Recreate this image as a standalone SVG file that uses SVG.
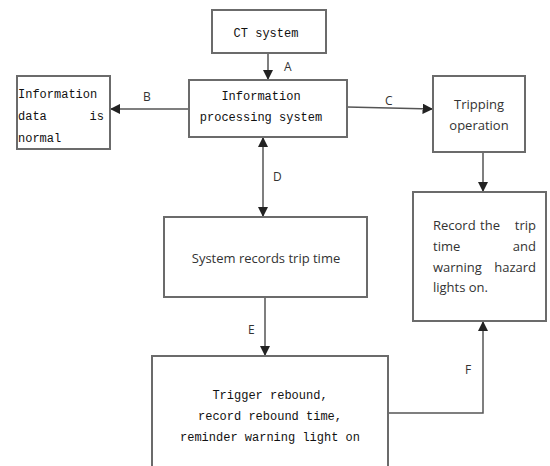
<svg xmlns="http://www.w3.org/2000/svg" width="550" height="466" viewBox="0 0 550 466">
<defs>
<marker id="ah" viewBox="0 0 10 10" refX="9" refY="5" markerWidth="7" markerHeight="7" orient="auto-start-reverse">
<path d="M0,0 L10,5 L0,10 z" fill="#222"/>
</marker>
<style>
.box{fill:#fff;stroke:#6b6b6b;stroke-width:2}
.mono{font-family:"Liberation Mono","DejaVu Sans Mono",monospace;font-size:12px;fill:#111}
.sans{font-family:"Open Sans","Noto Sans",sans-serif;font-size:13px;fill:#333}
.lbl{font-family:"Open Sans","Noto Sans",sans-serif;font-size:12px;fill:#333}
.conn{fill:none;stroke:#555;stroke-width:1.5}
</style>
</defs>
<rect width="550" height="466" fill="#fff"/>
<g id="connectors">
<line class="conn" x1="268" y1="53" x2="268" y2="79" marker-end="url(#ah)"/>
<text class="lbl" x="284" y="71">A</text>
<line class="conn" x1="189" y1="109" x2="111" y2="109" marker-end="url(#ah)"/>
<text class="lbl" x="143" y="101">B</text>
<line class="conn" x1="347" y1="107" x2="432" y2="109" marker-end="url(#ah)"/>
<text class="lbl" x="385" y="105">C</text>
<line class="conn" x1="263" y1="138" x2="263" y2="216" marker-start="url(#ah)" marker-end="url(#ah)"/>
<text class="lbl" x="273" y="181">D</text>
<line class="conn" x1="483" y1="152" x2="483" y2="191" marker-end="url(#ah)"/>
<line class="conn" x1="265" y1="297" x2="265" y2="355" marker-end="url(#ah)"/>
<text class="lbl" x="248" y="334">E</text>
<polyline class="conn" points="388,413 483,413 483,322" marker-end="url(#ah)"/>
<text class="lbl" x="465" y="374">F</text>
</g>
<g id="ct">
<rect class="box" x="212" y="10" width="114" height="43"/>
<text class="mono" x="266" y="37" text-anchor="middle">CT system</text>
</g>
<g id="info">
<rect class="box" x="189" y="80" width="158" height="57"/>
<text class="mono" x="261" y="100" text-anchor="middle">Information</text>
<text class="mono" x="261" y="121" text-anchor="middle">processing system</text>
</g>
<g id="normal">
<rect class="box" x="17" y="76" width="93" height="73"/>
<text class="mono" x="18" y="98">Information</text>
<text class="mono" x="18" y="120">data</text>
<text class="mono" x="104" y="120" text-anchor="end">is</text>
<text class="mono" x="18" y="142">normal</text>
</g>
<g id="trip">
<rect class="box" x="433" y="76" width="92" height="76"/>
<text class="sans" x="479" y="109" text-anchor="middle" font-size="14">Tripping</text>
<text class="sans" x="479" y="130" text-anchor="middle" font-size="14">operation</text>
</g>
<g id="record">
<rect class="box" x="413" y="192" width="133" height="129"/>
<text class="sans" x="433" y="230">Record</text>
<text class="sans" x="490" y="230" text-anchor="middle">the</text>
<text class="sans" x="536" y="230" text-anchor="end">trip</text>
<text class="sans" x="433" y="251">time</text>
<text class="sans" x="536" y="251" text-anchor="end">and</text>
<text class="sans" x="433" y="272">warning</text>
<text class="sans" x="536" y="272" text-anchor="end">hazard</text>
<text class="sans" x="433" y="292">lights on.</text>
</g>
<g id="sysrec">
<rect class="box" x="164" y="217" width="203" height="80"/>
<text class="sans" x="266" y="263" text-anchor="middle">System records trip time</text>
</g>
<g id="trigger">
<rect class="box" x="152" y="356" width="236" height="112"/>
<text class="mono" x="270" y="399" text-anchor="middle">Trigger rebound,</text>
<text class="mono" x="270" y="420" text-anchor="middle">record rebound time,</text>
<text class="mono" x="270" y="441" text-anchor="middle">reminder warning light on</text>
</g>
</svg>
